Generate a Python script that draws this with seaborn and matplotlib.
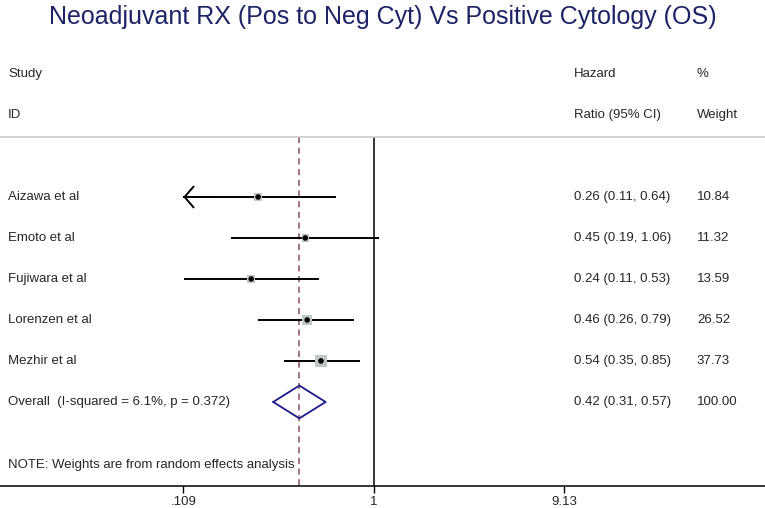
import numpy as np
import pandas as pd
import seaborn as sns
import matplotlib.pyplot as plt
from matplotlib.transforms import blended_transform_factory

studies = ["Aizawa et al", "Emoto et al", "Fujiwara et al", "Lorenzen et al", "Mezhir et al"]
hr = [0.26, 0.45, 0.24, 0.46, 0.54]
lo = [0.105, 0.19, 0.11, 0.26, 0.35]
hi = [0.64, 1.06, 0.53, 0.79, 0.85]
weights = [10.84, 11.32, 13.59, 26.52, 37.73]
hr_labels = ["0.26 (0.11, 0.64)", "0.45 (0.19, 1.06)", "0.24 (0.11, 0.53)",
             "0.46 (0.26, 0.79)", "0.54 (0.35, 0.85)"]
overall_label = "Overall  (I-squared = 6.1%, p = 0.372)"
overall = [0.42, 0.31, 0.57]
overall_text = "0.42 (0.31, 0.57)"
ticks = [0.109, 1, 9.13]
tick_labels = [".109", "1", "9.13"]

sns.set_style("white")
plt.rcParams['font.family'] = ['Liberation Sans', 'DejaVu Sans']

df = pd.DataFrame({"study": studies, "hr": hr, "lo": lo, "hi": hi, "w": weights})
df["row"] = np.arange(len(df))

fig = plt.figure(figsize=(7.65, 5.08), dpi=100)
ax = fig.add_axes([0, 1 - 486 / 508, 1, (486 - 53.5) / 508])
ax.set_xscale("log")
ax.set_xlim(0.01295, 94.1)
ax.set_ylim(7.05, -3.5)

top = -1.463
# reference lines
ax.vlines(1, top, 7.05, color="black", lw=1.1)
ax.vlines(overall[0], top, 7.05, color="#8e4d68", lw=1.1, linestyles=(0, (4, 3)))
ax.axhline(top, color="#cccccc", lw=1.2)

# confidence intervals (clip at lowest tick with an arrow)
xmin_tick = ticks[0]
for _, r in df.iterrows():
    left = max(r["lo"], xmin_tick)
    ax.hlines(r["row"], left, r["hi"], color="black", lw=1.4, zorder=2)
    if r["lo"] < xmin_tick:
        ax.annotate("", xy=(xmin_tick, r["row"]), xytext=(xmin_tick * 1.5, r["row"]),
                    arrowprops=dict(arrowstyle="->,head_length=0.65,head_width=0.75",
                                    color="black", lw=1.4, shrinkA=0, shrinkB=0))

sns.scatterplot(data=df, x="hr", y="row", size="w", sizes=(28, 80), size_norm=(10.84, 37.73),
                marker="s", color="#bfc8c4", edgecolor="none", legend=False, ax=ax, zorder=3)
sns.scatterplot(data=df, x="hr", y="row", marker="o", s=16, color="black",
                edgecolor="none", legend=False, ax=ax, zorder=4)

# overall diamond
orow = len(df)
dx = [overall[1], overall[0], overall[2], overall[0], overall[1]]
dy = [orow, orow - 0.4, orow, orow + 0.4, orow]
ax.plot(dx, dy, color="#1a1a8a", lw=1.3, zorder=4)

# text columns
tr = blended_transform_factory(ax.transAxes, ax.transData)
fs = 9.5
c1, c2, c3 = 0.0105, 0.750, 0.911
ax.text(c1, -3, "Study", transform=tr, va="center", fontsize=fs)
ax.text(c1, -2, "ID", transform=tr, va="center", fontsize=fs)
ax.text(c2, -3, "Hazard", transform=tr, va="center", fontsize=fs)
ax.text(c2, -2, "Ratio (95% CI)", transform=tr, va="center", fontsize=fs)
ax.text(c3, -3, "%", transform=tr, va="center", fontsize=fs)
ax.text(c3, -2, "Weight", transform=tr, va="center", fontsize=fs)
for i in range(len(df)):
    ax.text(c1, i, studies[i], transform=tr, va="center", fontsize=fs)
    ax.text(c2, i, hr_labels[i], transform=tr, va="center", fontsize=fs)
    ax.text(c3, i, f"{weights[i]:.2f}", transform=tr, va="center", fontsize=fs)
ax.text(c1, orow, overall_label, transform=tr, va="center", fontsize=fs)
ax.text(c2, orow, overall_text, transform=tr, va="center", fontsize=fs)
ax.text(c3, orow, "100.00", transform=tr, va="center", fontsize=fs)
ax.text(c1, 6.54, "NOTE: Weights are from random effects analysis", transform=tr,
        va="center", fontsize=fs)

# axes styling
for s in ["top", "left", "right"]:
    ax.spines[s].set_visible(False)
ax.spines["bottom"].set_color("black")
ax.spines["bottom"].set_linewidth(1.1)
ax.set_yticks([])
ax.set_xticks(ticks)
ax.set_xticklabels(tick_labels, fontsize=9.5)
ax.xaxis.set_minor_locator(plt.NullLocator())
ax.tick_params(axis="x", length=5, width=1, color="black", pad=2, bottom=True)
ax.set_xlabel("")
ax.set_ylabel("")

fig.text(0.5, 1 - 17 / 508, "Neoadjuvant RX (Pos to Neg Cyt) Vs Positive Cytology (OS)",
         ha="center", va="center", fontsize=18, color="#1c2366")

fig.savefig("out.png", dpi=100)
